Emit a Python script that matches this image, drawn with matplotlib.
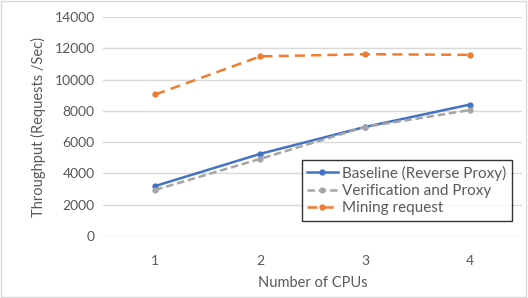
import matplotlib
matplotlib.use("Agg")
import matplotlib.pyplot as plt
from matplotlib.patches import Rectangle

cpus = [1, 2, 3, 4]
baseline = [3200, 5250, 6970, 8400]
verification = [2950, 4930, 6970, 8050]
mining = [9050, 11480, 11620, 11580]

plt.rcParams["font.family"] = ["Lato", "DejaVu Sans"]
txt = "#595959"

fig = plt.figure(figsize=(5.28, 2.98), dpi=100)
ax = fig.add_axes([0.195, 0.208, 0.794, 0.735])

ax.plot(cpus, baseline, color="#4472C4", lw=1.8, marker="o", ms=3.5,
        label="Baseline (Reverse Proxy)")
ax.plot(cpus, verification, color="#A5A5A5", lw=1.8, ls=(0, (3, 1.5)), marker="o", ms=3.5,
        label="Verification and Proxy")
ax.plot(cpus, mining, color="#ED7D31", lw=1.8, ls=(0, (4, 2.5)), marker="o", ms=3.5,
        label="Mining request")

ax.set_xlim(0.5, 4.5)
ax.set_ylim(0, 14000)
ax.set_yticks(range(0, 14001, 2000))
ax.set_xticks(cpus)
ax.grid(axis="y", color="#d9d9d9", lw=1)
ax.set_axisbelow(True)
for s in ax.spines.values():
    s.set_visible(False)
ax.tick_params(length=0, labelsize=10, colors=txt, pad=6)
ax.tick_params(axis="x", pad=14)
ax.set_xlabel("Number of CPUs", fontsize=10.5, color=txt, labelpad=6)
ax.set_ylabel("Throughput (Requests /Sec)", fontsize=10.5, color=txt, labelpad=6)

leg = ax.legend(loc="lower right", bbox_to_anchor=(0.975, 0.07), fontsize=11,
                frameon=True, fancybox=False, edgecolor="black", handlelength=2.0,
                handletextpad=0.3, borderpad=0.35, labelspacing=0.22, borderaxespad=0)
leg.get_frame().set_linewidth(1)
for t in leg.get_texts():
    t.set_color(txt)

fig.patches.append(Rectangle((0.002, 0.003), 0.995, 0.993, transform=fig.transFigure,
                             fill=False, edgecolor="#d9d9d9", lw=1))

fig.savefig("out.png", dpi=100)
